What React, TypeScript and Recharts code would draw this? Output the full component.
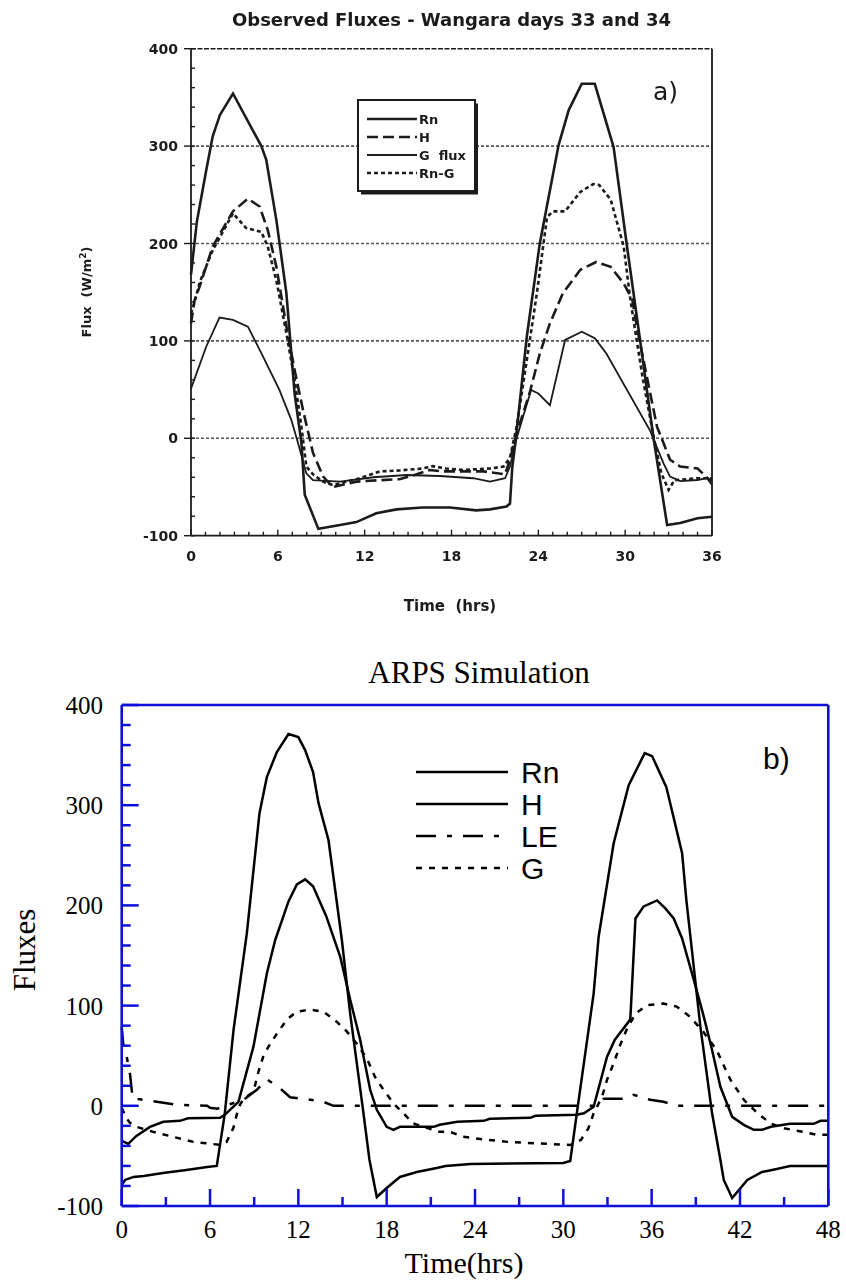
import React from 'react';
import { LineChart, Line, XAxis, YAxis, ReferenceLine } from 'recharts';

type Pt = [number, number];

// ---------- a) Observed fluxes, Wangara days 33 and 34 : [time (h), flux (W/m2)] ----------
const obsRn: Pt[] = [[0,168],[0.4,222],[1.05,275],[1.5,310],[2.0,332],[2.9,354],[4.86,300],[5.2,286],[5.9,224],[6.59,149],[7.16,46],[7.63,-5],[7.86,-58],[8.8,-93],[10.3,-89],[11.43,-86],[12.8,-77],[14.2,-73],[16.0,-71],[17.9,-71],[19.7,-74],[20.66,-73],[21.8,-70],[22.04,-67],[22.2,-30],[22.45,0],[23.2,104],[24.1,200],[25.4,301],[26.1,337],[27.0,364],[27.9,364],[29.2,299],[30.1,200],[31.0,104],[31.96,0],[32.9,-89],[33.8,-87],[35.0,-82],[36,-80.5]];
const obsH: Pt[] = [[0,118],[0.25,142],[0.6,156],[1.5,197],[2.9,233],[3.93,246],[4.74,238],[5.3,214],[5.9,176],[6.59,115],[7.16,70],[7.74,29],[8.43,-15],[9.12,-39],[9.8,-50],[11.43,-44.5],[13.04,-43],[14.4,-42],[15.6,-37],[16.5,-32.5],[17.4,-34],[20.2,-34],[21.7,-37],[22.04,-22],[22.5,5],[23.4,46.5],[24.1,87],[24.8,118],[25.7,149],[26.9,173],[28.0,181],[29.0,176],[29.9,159],[30.5,142],[30.8,115],[31.5,63],[32.2,12],[33.1,-22],[33.8,-29],[35.0,-31],[35.7,-41],[36,-44]];
const obsG: Pt[] = [[0,51],[1.05,94],[1.97,124],[2.9,121.5],[3.93,114.6],[4.74,91],[6.1,50],[6.93,19],[7.4,-5],[7.97,-36],[8.43,-43],[10.3,-44.5],[12.6,-40],[14.9,-37.7],[17.2,-38.7],[19.5,-41],[20.66,-44.5],[21.7,-41],[22.04,-29],[22.5,0],[23.5,49.6],[24.0,46],[24.8,34],[25.85,101],[27.0,109.5],[27.9,102.7],[28.7,87],[31.7,8.5],[32.65,-25.7],[33.1,-39.4],[33.8,-44],[35,-42.8],[35.65,-41],[36,-48]];
const obsRnG: Pt[] = [[0,128],[0.25,140],[0.6,160],[1.5,193],[2.9,231],[3.8,216],[4.86,212],[5.3,197],[5.9,162],[6.59,108],[7.16,60],[7.63,12],[7.97,-29],[8.43,-37],[9.12,-44.5],[9.8,-48],[11.43,-42],[13.04,-34],[14.4,-33],[16.0,-31],[16.7,-28.6],[17.6,-31],[18.8,-32.5],[20.66,-31],[21.6,-29],[22.04,-20],[22.5,12],[23.2,80],[23.9,149],[24.6,227],[25.0,233],[25.85,233],[26.9,253],[27.8,261],[28.2,260],[29.0,245],[29.9,197],[30.3,149],[30.57,122],[31.2,63],[31.96,2],[32.5,-36],[33.0,-53],[33.4,-43],[35,-41],[36,-41]];

const obsYTicks = [-100,-80,-60,-40,-20,0,20,40,60,80,100,120,140,160,180,200,220,240,260,280,300,320,340,360,380,400];
const obsYLabels = [-100,0,100,200,300,400];
const obsXTicks = [0,1,2,3,4,5,6,7,8,9,10,11,12,13,14,15,16,17,18,19,20,21,22,23,24,25,26,27,28,29,30,31,32,33,34,35,36];
const obsXLabels = [0,6,12,18,24,30,36];
const obsGrid = [0,100,200,300];
const obsLegendNames = ['Rn','H','G  flux','Rn-G'];

// ---------- b) ARPS simulation : [time (h), flux] ----------
const simRn: Pt[] = [[0,-79],[0.23,-74],[0.8,-71],[1.5,-70],[2.8,-67],[4.4,-64],[5.8,-61],[6.46,-60],[7.0,-8],[7.6,76],[8.5,172],[9.36,292],[9.86,328],[10.54,353],[11.33,371],[12.0,368],[12.46,355],[13.0,333],[13.37,302],[14.05,265],[14.96,165],[15.52,92],[16.42,-7],[16.83,-54],[17.33,-91],[18.0,-82],[18.9,-71],[20.05,-66],[21.4,-62],[22.0,-60],[23.7,-58],[30.0,-57],[30.47,-55],[30.95,-4],[32.06,112],[32.4,169],[33.42,262],[34.44,320],[35.53,352],[36.03,349],[37.0,318],[38.07,252],[38.36,205],[39.31,79],[40.1,-7],[40.67,-54],[40.9,-74],[41.47,-92],[42.5,-74],[43.5,-66],[44.5,-63],[45.4,-60],[48,-60]];
const simH: Pt[] = [[0,-35],[0.45,-38],[1.0,-30],[1.92,-21],[2.83,-16],[3.96,-15],[4.5,-12.5],[6.68,-12],[7.0,-9],[7.93,4],[8.95,59],[9.86,132],[10.42,165],[11.33,204],[11.9,221],[12.46,226],[13.0,219],[13.9,189],[14.84,149],[15.52,106],[16.2,66],[16.88,16],[17.33,-4],[18.0,-21],[18.46,-24],[18.9,-21],[21.2,-21],[21.6,-19],[22.8,-16],[24.6,-15],[25.0,-13],[27.75,-12],[28.1,-10],[30.9,-9],[31.4,-7.5],[32.06,-1],[32.97,49],[33.5,66],[34.44,84],[34.55,86],[34.9,187],[35.46,199],[36.37,205],[36.93,197],[37.5,187],[38.07,167],[38.86,126],[39.54,89],[40.1,56],[40.67,19],[41.47,-11],[42.26,-19],[42.94,-24],[43.5,-24],[44.1,-21],[45.4,-18],[47.0,-18],[47.47,-15],[48,-15]];
const simLE: Pt[] = [[0,79],[0.1,62],[0.34,49],[0.56,32],[0.68,16],[0.75,7],[1.24,6.5],[3.7,1],[5.8,0],[6.0,-2],[6.5,-3],[7.0,0],[8.27,6],[9.18,16],[9.86,26.5],[10.76,17.5],[11.44,8.5],[12.8,6],[13.7,4],[14.39,0],[32.3,0],[32.74,7],[34.3,7],[34.78,11],[35.9,6],[36.8,4],[37.7,0],[48,0]];
const simG: Pt[] = [[0,-2],[0.3,-12],[0.56,-17],[1.0,-21],[2.15,-26],[3.5,-31],[4.87,-36],[5.78,-37.5],[6.68,-39],[7.13,-36],[7.59,-22],[7.93,-2],[8.27,7],[8.95,14],[9.29,34],[9.63,50],[9.97,59],[10.54,72],[11.22,86],[11.9,94],[12.8,96],[13.7,94],[14.6,84],[15.3,74],[15.97,62],[16.66,47],[17.2,29],[17.78,16],[18.46,2.5],[19.14,-7.5],[19.8,-17.5],[20.5,-21],[21.6,-26],[22.3,-26],[23.2,-31],[24.6,-33.5],[26.2,-36],[28.2,-37.5],[30.5,-39],[31.2,-34],[31.7,-22.5],[32.06,-7.5],[32.63,9],[32.97,26],[33.42,42.5],[33.87,61],[34.3,76],[34.9,92],[35.7,100.6],[36.8,102],[37.7,99],[38.6,89],[39.5,74],[40.4,56],[41.35,26],[42.26,6],[43.2,-7.5],[44.07,-17.5],[45.0,-22.5],[46.3,-26],[47.25,-29],[48,-29]];

const simYTicks = [-100,-80,-60,-40,-20,0,20,40,60,80,100,120,140,160,180,200,220,240,260,280,300,320,340,360,380,400];
const simYLabels = [-100,0,100,200,300,400];
const simXTicks = [0,3,6,9,12,15,18,21,24,27,30,33,36,39,42,45,48];
const simXLabels = [0,6,12,18,24,30,36,42,48];
const simLegendNames = ['Rn','H','LE','G'];

// ---------- styles ----------
const INK = '#1b1b1b';
const BLUE = '#0f0fdc';
const SCAN = "'DejaVu Sans', sans-serif";
const SERIF = "'Liberation Serif', 'Times New Roman', serif";
const ARIAL = "'Liberation Sans', Arial, sans-serif";

const toRows = (pts: Pt[]) => pts.map(([t, v]) => ({ t, v }));

// ---------- tick renderers (top chart) ----------
const ObsLeftTick = (p: any) => {
  const { x, y, payload } = p;
  const v = payload.value;
  const major = obsYLabels.includes(v);
  return (
    <g>
      <line x1={major ? x - 7 : x} x2={x + 4} y1={y} y2={y} stroke={INK} strokeWidth={1.4} />
      {major && (
        <text x={x - 13} y={y + 5} textAnchor="end" fontFamily={SCAN} fontWeight="bold" fontSize={14} fill={INK}>{v}</text>
      )}
    </g>
  );
};
const ObsRightTick = (p: any) => {
  const { x, y } = p;
  return <line x1={x} x2={x - 4} y1={y} y2={y} stroke={INK} strokeWidth={1.4} />;
};
const ObsBottomTick = (p: any) => {
  const { x, y, payload } = p;
  const v = payload.value;
  const major = obsXLabels.includes(v);
  return (
    <g>
      <line x1={x} x2={x} y1={y} y2={y - (major ? 6 : 4)} stroke={INK} strokeWidth={1.4} />
      {major && (
        <text x={x} y={y + 25} textAnchor="middle" fontFamily={SCAN} fontWeight="bold" fontSize={14} fill={INK}>{v}</text>
      )}
    </g>
  );
};
const ObsTopTick = (p: any) => {
  const { x, y } = p;
  return <line x1={x} x2={x} y1={y} y2={y + 4} stroke={INK} strokeWidth={1.4} />;
};

// ---------- tick renderers (bottom chart) ----------
const SimLeftTick = (p: any) => {
  const { x, y, payload } = p;
  const v = payload.value;
  const major = simYLabels.includes(v);
  return (
    <g>
      <line x1={x} x2={x + (major ? 17 : 9)} y1={y} y2={y} stroke={BLUE} strokeWidth={2.5} />
      {major && (
        <text x={x - 18.7} y={y + 9} textAnchor="end" fontFamily={SERIF} fontSize={25} fill="#000">{v}</text>
      )}
    </g>
  );
};
const SimRightTick = (p: any) => {
  const { x, y, payload } = p;
  const major = simYLabels.includes(payload.value);
  return <line x1={x} x2={x - (major ? 17 : 9)} y1={y} y2={y} stroke={BLUE} strokeWidth={2.5} />;
};
const SimBottomTick = (p: any) => {
  const { x, y, payload } = p;
  const v = payload.value;
  const major = simXLabels.includes(v);
  return (
    <g>
      <line x1={x} x2={x} y1={y} y2={y - (major ? 17 : 9)} stroke={BLUE} strokeWidth={2.5} />
      {major && (
        <text x={x} y={y + 32} textAnchor="middle" fontFamily={SERIF} fontSize={25} fill="#000">{v}</text>
      )}
    </g>
  );
};
const SimTopTick = (p: any) => {
  const { x, y, payload } = p;
  const major = simXLabels.includes(payload.value);
  return <line x1={x} x2={x} y1={y} y2={y + (major ? 17 : 9)} stroke={BLUE} strokeWidth={2.5} />;
};

const obsStyles = [
  { stroke: INK, width: 2.6, dash: undefined as string | undefined },
  { stroke: INK, width: 2.6, dash: '11 5' },
  { stroke: INK, width: 1.8, dash: undefined as string | undefined },
  { stroke: INK, width: 2.6, dash: '4 3' },
];
const simStyles = [
  { stroke: '#000', width: 2.5, dash: undefined as string | undefined },
  { stroke: '#000', width: 2.5, dash: undefined as string | undefined },
  { stroke: '#000', width: 2.5, dash: '20 11 5 11' },
  { stroke: '#000', width: 2.5, dash: '6 7' },
];

function ObservedChart() {
  const series = [obsRn, obsH, obsG, obsRnG];
  return (
    <LineChart width={846} height={640} margin={{ top: 47.7, right: 133, bottom: 103.3, left: 190 }}>
      <XAxis xAxisId="xb" type="number" dataKey="t" domain={[0, 36]} ticks={obsXTicks} interval={0} orientation="bottom" height={1}
        axisLine={{ stroke: INK, strokeWidth: 1.8 }} tickLine={false} tickSize={0} tickMargin={0} tick={ObsBottomTick} />
      <XAxis xAxisId="xt" type="number" dataKey="t" domain={[0, 36]} ticks={obsXTicks} interval={0} orientation="top" height={1}
        axisLine={{ stroke: INK, strokeWidth: 1.6, strokeDasharray: '5 1.5' }} tickLine={false} tickSize={0} tickMargin={0} tick={ObsTopTick} />
      <YAxis yAxisId="yl" type="number" domain={[-100, 400]} ticks={obsYTicks} interval={0} orientation="left" width={1}
        axisLine={{ stroke: INK, strokeWidth: 1.8 }} tickLine={false} tickSize={0} tickMargin={0} tick={ObsLeftTick} />
      <YAxis yAxisId="yr" type="number" domain={[-100, 400]} ticks={obsYTicks} interval={0} orientation="right" width={1}
        axisLine={{ stroke: INK, strokeWidth: 1.8 }} tickLine={false} tickSize={0} tickMargin={0} tick={ObsRightTick} />
      {obsGrid.map((g) => (
        <ReferenceLine key={g} y={g} xAxisId="xb" yAxisId="yl" stroke="#555" strokeWidth={1.6} strokeDasharray="3 2" />
      ))}
      {series.map((s, i) => (
        <Line key={i} data={toRows(s)} dataKey="v" xAxisId="xb" yAxisId="yl" type="linear" name={obsLegendNames[i]}
          stroke={obsStyles[i].stroke} strokeWidth={obsStyles[i].width} strokeDasharray={obsStyles[i].dash}
          dot={false} activeDot={false} isAnimationActive={false} />
      ))}
    </LineChart>
  );
}

function SimulationChart() {
  const series = [simRn, simH, simLE, simG];
  return (
    <LineChart width={846} height={642} margin={{ top: 64, right: 16.7, bottom: 75, left: 120.7 }}>
      <XAxis xAxisId="xb" type="number" dataKey="t" domain={[0, 48]} ticks={simXTicks} interval={0} orientation="bottom" height={1}
        axisLine={{ stroke: BLUE, strokeWidth: 2.6 }} tickLine={false} tickSize={0} tickMargin={0} tick={SimBottomTick} />
      <XAxis xAxisId="xt" type="number" dataKey="t" domain={[0, 48]} ticks={simXTicks} interval={0} orientation="top" height={1}
        axisLine={{ stroke: BLUE, strokeWidth: 2.6 }} tickLine={false} tickSize={0} tickMargin={0} tick={SimTopTick} />
      <YAxis yAxisId="yl" type="number" domain={[-100, 400]} ticks={simYTicks} interval={0} orientation="left" width={1}
        axisLine={{ stroke: BLUE, strokeWidth: 2.6 }} tickLine={false} tickSize={0} tickMargin={0} tick={SimLeftTick} />
      <YAxis yAxisId="yr" type="number" domain={[-100, 400]} ticks={simYTicks} interval={0} orientation="right" width={1}
        axisLine={{ stroke: BLUE, strokeWidth: 2.6 }} tickLine={false} tickSize={0} tickMargin={0} tick={SimRightTick} />
      {series.map((s, i) => (
        <Line key={i} data={toRows(s)} dataKey="v" xAxisId="xb" yAxisId="yl" type="linear" name={simLegendNames[i]}
          stroke={simStyles[i].stroke} strokeWidth={simStyles[i].width} strokeDasharray={simStyles[i].dash}
          dot={false} activeDot={false} isAnimationActive={false} />
      ))}
    </LineChart>
  );
}

function ObservedOverlay() {
  const rowsY = [119, 137, 155, 173];
  return (
    <svg width={846} height={640} style={{ position: 'absolute', left: 0, top: 0, pointerEvents: 'none' }}>
      <text x={451.5} y={25.5} textAnchor="middle" fontFamily={SCAN} fontWeight="bold" fontSize={18} fill={INK}>
        Observed Fluxes - Wangara days 33 and 34
      </text>
      <text transform="translate(91,292) rotate(-90)" textAnchor="middle" fontFamily={SCAN} fontWeight="bold" fontSize={13} fill={INK}>
        {'Flux\u00a0\u00a0(W/m'}
        <tspan dy={-5} fontSize={9}>2</tspan>
        <tspan dy={5}>)</tspan>
      </text>
      <text x={450} y={611} textAnchor="middle" fontFamily={SCAN} fontWeight="bold" fontSize={15} fill={INK}>
        {'Time\u00a0\u00a0(hrs)'}
      </text>
      <text x={653} y={100} fontFamily={SCAN} fontSize={25} fill={INK}>a)</text>
      <rect x={361} y={103.5} width={117} height={91} fill={INK} />
      <rect x={358} y={100} width={117} height={91} fill="#fff" stroke={INK} strokeWidth={2} />
      {obsLegendNames.map((n, i) => (
        <g key={n}>
          <line x1={367} x2={417} y1={rowsY[i]} y2={rowsY[i]} stroke={obsStyles[i].stroke}
            strokeWidth={obsStyles[i].width} strokeDasharray={obsStyles[i].dash} />
          <text x={419} y={rowsY[i] + 5} fontFamily={SCAN} fontWeight="bold" fontSize={13} fill={INK}>
            {n.replace('  ', '\u00a0\u00a0')}
          </text>
        </g>
      ))}
    </svg>
  );
}

function SimulationOverlay() {
  const rowsY = [772, 804, 836, 868];
  return (
    <svg width={846} height={1282} style={{ position: 'absolute', left: 0, top: 0, pointerEvents: 'none' }}>
      <text x={479} y={683} textAnchor="middle" fontFamily={SERIF} fontSize={31} fill="#000">ARPS Simulation</text>
      <text transform="translate(35,950) rotate(-90)" textAnchor="middle" fontFamily={SERIF} fontSize={31} fill="#000">Fluxes</text>
      <text x={464} y={1273} textAnchor="middle" fontFamily={SERIF} fontSize={30} fill="#000">Time(hrs)</text>
      <text x={763} y={769} fontFamily={ARIAL} fontSize={30} fill="#000">b)</text>
      {simLegendNames.map((n, i) => (
        <g key={n}>
          <line x1={416} x2={508} y1={rowsY[i]} y2={rowsY[i]} stroke={simStyles[i].stroke}
            strokeWidth={simStyles[i].width} strokeDasharray={simStyles[i].dash} />
          <text x={521} y={rowsY[i] + 11} fontFamily={ARIAL} fontSize={30} fill="#000">{n}</text>
        </g>
      ))}
    </svg>
  );
}

export default function App() {
  return (
    <div style={{ position: 'absolute', left: 0, top: 0, width: 846, height: 1282, background: '#fff', overflow: 'hidden' }}>
      <div style={{ position: 'absolute', left: 0, top: 0, width: 846, height: 640, filter: 'blur(0.45px)' }}>
        <ObservedChart />
        <ObservedOverlay />
      </div>
      <div style={{ position: 'absolute', left: 0, top: 640, width: 846, height: 642 }}>
        <SimulationChart />
      </div>
      <SimulationOverlay />
    </div>
  );
}
